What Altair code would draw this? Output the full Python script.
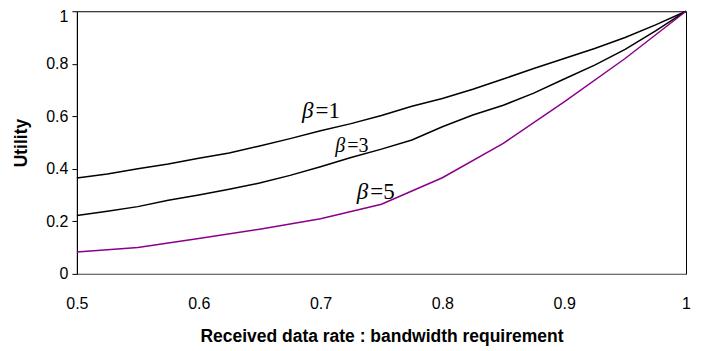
import altair as alt
import pandas as pd

x_vals = [0.5, 0.525, 0.55, 0.575, 0.6, 0.625, 0.65, 0.675, 0.7, 0.725, 0.75,
          0.775, 0.8, 0.825, 0.85, 0.875, 0.9, 0.925, 0.95, 0.975, 1.0]
beta1 = [0.365, 0.38, 0.40, 0.418, 0.44, 0.46, 0.487, 0.515, 0.545, 0.572, 0.603,
         0.638, 0.668, 0.703, 0.742, 0.782, 0.82, 0.858, 0.9, 0.948, 1.0]
beta3 = [0.222, 0.238, 0.256, 0.28, 0.30, 0.322, 0.346, 0.375, 0.408, 0.443, 0.475,
         0.51, 0.56, 0.605, 0.642, 0.688, 0.742, 0.795, 0.855, 0.925, 1.0]
x5 = [0.5, 0.55, 0.6, 0.65, 0.7, 0.75, 0.8, 0.85, 0.9, 0.95, 1.0]
beta5 = [0.083, 0.10, 0.135, 0.17, 0.21, 0.265, 0.366, 0.497, 0.655, 0.82, 1.0]

labels = ["=1", "=3", "=5"]
label_x = [0.695, 0.721, 0.74]
label_y = [0.62, 0.487, 0.31]
label_size = [23, 20, 23]

df = pd.concat([
    pd.DataFrame({"x": x_vals, "y": beta1, "s": "b1"}),
    pd.DataFrame({"x": x_vals, "y": beta3, "s": "b3"}),
    pd.DataFrame({"x": x5, "y": beta5, "s": "b5"}),
])
lab = pd.DataFrame({"x": label_x, "y": label_y, "t": labels, "size": label_size})

xs = alt.Scale(domain=[0.5, 1.0], nice=False, zero=False)
ys = alt.Scale(domain=[0, 1], nice=False)

lines = alt.Chart(df).mark_line(strokeWidth=1.5).encode(
    x=alt.X("x:Q", scale=xs, title="Received data rate : bandwidth requirement",
            axis=alt.Axis(values=[0.5, 0.6, 0.7, 0.8, 0.9, 1.0], format="~g",
                          ticks=False, labelFlush=False, labelPadding=22, titlePadding=16,
                          domainColor="#808080", grid=False)),
    y=alt.Y("y:Q", scale=ys, title="Utility",
            axis=alt.Axis(values=[0, 0.2, 0.4, 0.6, 0.8, 1.0], format="~g",
                          tickSize=5, tickColor="black", labelPadding=4,
                          labelOffset={"condition": {"test": "datum.value == 1", "value": 5}, "value": 0},
                          titleX=-55, titleBaseline="middle", grid=False, domainColor="black")),
    color=alt.Color("s:N", scale=alt.Scale(domain=["b1", "b3", "b5"],
                                            range=["#000000", "#000000", "#8B008B"]),
                    legend=None),
)

beta_txt = alt.Chart(lab).mark_text(font="Liberation Serif", fontStyle="italic",
                                    align="right", baseline="middle", color="black", dx=-1).encode(
    x="x:Q", y="y:Q", text=alt.value("β"), size=alt.Size("size:Q", scale=None))
eq_txt = alt.Chart(lab).mark_text(font="Liberation Serif", align="left",
                                  baseline="middle", color="black", dx=1).encode(
    x="x:Q", y="y:Q", text="t:N", size=alt.Size("size:Q", scale=None))

chart = alt.layer(lines, beta_txt, eq_txt).properties(
    width=610, height=263,
    autosize=alt.AutoSizeParams(type="none"),
    padding={"left": 69, "top": 3, "right": 10, "bottom": 76},
).configure_view(stroke="black", strokeWidth=1).configure_axis(
    labelFont="Liberation Sans", labelFontSize=16, labelColor="black",
    titleFont="Liberation Sans", titleFontSize=17.5, titleFontWeight="bold", titleColor="black",
)

chart.save("out.html", embed_options={"renderer": "svg", "actions": False})
